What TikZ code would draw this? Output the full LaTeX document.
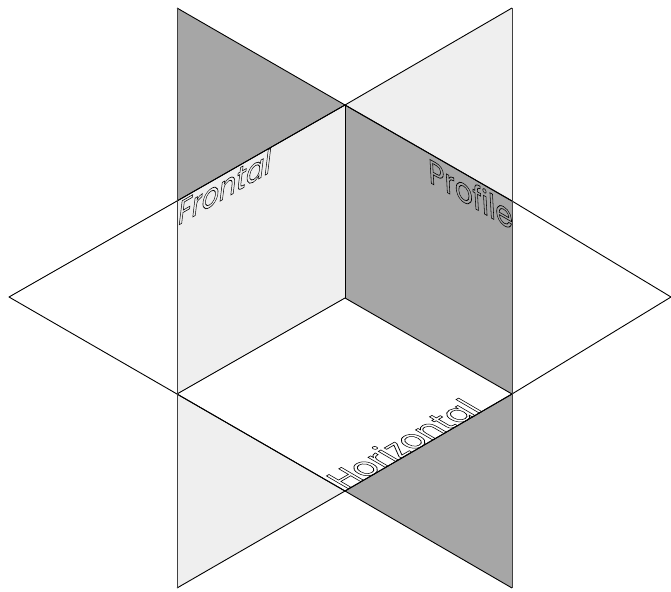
\documentclass[tikz,border=0pt]{standalone}
\usepackage{fontspec}
\setmainfont{Poppins}
\definecolor{darkplane}{HTML}{A6A6A6}
\definecolor{lightplane}{HTML}{EFEFEF}
\newcommand{\outlinetext}[1]{\special{pdf:code q 1 Tr 0.65 w}#1\special{pdf:code Q}}
\tikzset{
  x=1pt,y=-1pt,
  edge/.style={draw=black,line width=0.9pt,line join=round},
  vedge/.style={draw=black!75,line width=0.9pt},
  dark/.style={fill=darkplane},
  light/.style={fill=lightplane},
  planelabel/.style={transform shape,inner sep=0pt,anchor=base west,font=\fontsize{32}{32}\selectfont}
}
\begin{document}
\begin{tikzpicture}
\useasboundingbox (0,0) rectangle (671,591);
\coordinate (tl) at (177,8);
\coordinate (tr) at (512,8);
\coordinate (top) at (345,105);
\coordinate (L) at (9,297);
\coordinate (R) at (671,297);
\coordinate (a) at (177,201);
\coordinate (b) at (512,201);
\coordinate (c) at (345,298);
\coordinate (d) at (177,394);
\coordinate (e) at (512,394);
\coordinate (f) at (345,491);
\coordinate (bl) at (177,588);
\coordinate (br) at (512,588);
\fill[dark] (tl) -- (top) -- (a) -- cycle;
\fill[light] (tr) -- (top) -- (b) -- cycle;
\fill[light] (a) -- (top) -- (c) -- (d) -- cycle;
\fill[dark] (top) -- (b) -- (e) -- (c) -- cycle;
\fill[light] (d) -- (f) -- (bl) -- cycle;
\fill[dark] (e) -- (f) -- (br) -- cycle;
\draw[edge] (tl) -- (top) -- (b);
\draw[edge] (tr) -- (top) -- (a);
\draw[edge] (L) -- (a) -- (top) -- (b) -- (R) -- (e) -- (f) -- (d) -- cycle;
\draw[edge] (d) -- (c) -- (e);
\draw[edge] (top) -- (c);
\draw[edge] (d) -- (f) -- (br);
\draw[edge] (e) -- (f) -- (bl);
\draw[vedge] (tl) -- (bl);
\draw[vedge] (tr) -- (br);
\begin{scope}[shift={(177,226)},cm={0.84,0.485,0.13,1.07,(0,0)}]
\node[planelabel] (frontal) at (0,0) {\outlinetext{Frontal}};
\end{scope}
\begin{scope}[shift={(429,182)},cm={0.866,-0.5,-0.06,1.07,(0,0)}]
\node[planelabel] (profile) at (0,0) {\outlinetext{Profile}};
\end{scope}
\begin{scope}[shift={(346,490)},cm={0.866,0.5,-0.98,0.57,(0,0)}]
\node[planelabel] (horizontal) at (0,0) {\outlinetext{Horizontal}};
\end{scope}
\end{tikzpicture}
\end{document}
